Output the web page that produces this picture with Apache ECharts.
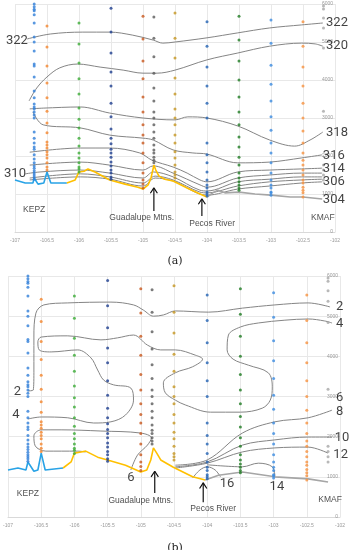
<!DOCTYPE html>
<html><head><meta charset="utf-8">
<script src="https://cdn.jsdelivr.net/npm/echarts@6/dist/echarts.min.js"></script>
<style>html,body{margin:0;padding:0;background:#fff}#c{width:350px;height:550px}</style>
</head><body><div id="c"></div>
<script>
// ---- sounding columns (longitude, altitude m) ----
const colLons = [-106.70,-106.5,-106.0,-105.5,-105.0,-104.83,-104.5,-104.0,-103.5,-103.0,-102.5,-102.18];
const col1 = [6000,5930,5860,5820,5720,5500,5130,5000,4760,4420,4370,4080,3710,3530,3370,3290,3240,3160,3080,3000,2630,2470,2340,2240,2180,2030,1920,1820,1740,1680,1610,1550,1500,1450,1390];
const col2 = [5420,4870,4370,3920,3530,3180,2870,2610,2370,2290,2210,2110,2030,1950,1820,1710,1630];
const col3 = [5500,4950,4450,4030,3630,3260,2970,2740,2470,2260,2080,1950,1820,1710,1660,1580];
const col4 = [5890,5260,4710,4210,3840,3390,3030,2710,2470,2320,2180,2080,1970,1840,1740,1630,1550,1450,1390];
const col5 = [5680,5080,4500,4030,3550,3160,2820,2550,2340,2080,1820,1550,1370,1260,1160];
const col6 = [5660,5100,4610,4180,3790,3450,3160,3000,2820,2630,2470,2290,2160,2080,1970,1890,1820];
const col7 = [5760,5100,4580,4050,3630,3240,3000,2820,2550,2340,2110,1950,1760,1580,1500,1420];
const col8 = [5530,4890,4340,3840,3390,3000,2340,2030,1820,1580,1370,1240,1160,1050,1000,950];
const col9 = [5680,5050,4500,4000,3550,3160,2820,2500,2240,1970,1760,1550,1420,1320,1240,1160,1100];
const col10 = [5580,4970,4390,3890,3450,3030,2680,2340,2080,1820,1550,1370,1240,1160,1050,1030,970];
const col11 = [5530,4890,4340,3840,3390,3000,2660,2340,2080,1890,1760,1630,1500,1370,1290,1180,1100,1030,920];
const col12 = [5950,5870,5630,5370,4840,3180,1760,1630,1500,1370];
const columns = [col1,col2,col3,col4,col5,col6,col7,col8,col9,col10,col11,col12];
const colColors = ['#2f7ed8','#f4842c','#3aaa35','#1d3d8f','#c8561c','#5a5a5a','#c4951f','#2262b3','#1e7a22','#3b8be0','#f6913e','#a6a6a6'];

// ---- terrain (a) ----
const terrA_blue = [[-107,1370],[-106.84,1290],[-106.72,1290],[-106.70,1420],[-106.64,1260],[-106.55,1290],[-106.5,1580],[-106.44,1290],[-106.19,1290]];
const terrA_yellow = [[-106.19,1290],[-106.06,1370],[-106.0,1580],[-105.92,1600],[-105.86,1660],[-105.75,1580],[-105.52,1370],[-105.28,1260],[-105.08,1180],[-105.0,1130],[-104.92,1240],[-104.875,1420],[-104.84,1680],[-104.83,1760],[-104.80,1630],[-104.75,1470],[-104.66,1390],[-104.53,1340],[-104.31,1160],[-104.11,1000],[-104.0,920]];
const terrA_gray = [[-104.0,920],[-103.91,1030],[-103.83,1100],[-103.72,1030],[-103.5,1050],[-103.25,1000],[-103.0,970],[-102.7,920],[-102.5,920],[-102.2,870]];
// ---- terrain (b) ----
const terrB_blue = [[-107,1170],[-106.85,1220],[-106.73,1170],[-106.70,1370],[-106.61,1140],[-106.55,1170],[-106.5,1590],[-106.44,1170],[-106.17,1220]];
const terrB_yellow = [[-106.17,1220],[-106.05,1370],[-106.0,1590],[-105.9,1620],[-105.83,1640],[-105.65,1490],[-105.5,1420],[-105.23,1290],[-105.0,1120],[-104.91,1170],[-104.85,1420],[-104.81,1720],[-104.76,1590],[-104.70,1420],[-104.51,1240],[-104.22,1000],[-104.03,920]];
const terrB_gray = [[-104.03,920],[-103.83,1040],[-103.47,1120],[-102.98,1000],[-102.48,950],[-102.18,870]];

// ---- contours (a): potential temperature ----
const A322 = [[-106.81,5080],[-106.45,5210],[-105.94,5260],[-105.52,5260],[-105.16,5180],[-104.84,5050],[-104.69,4970],[-104.5,5000],[-104.0,5110],[-103.52,5240],[-103.02,5370],[-102.52,5450],[-102.19,5500]];
const A320 = [[-106.78,3450],[-106.66,3790],[-106.5,4080],[-106.3,4320],[-106.02,4420],[-105.67,4340],[-105.31,4260],[-105.0,4180],[-104.78,4180],[-104.5,4260],[-104.0,4530],[-103.52,4710],[-103.02,4890],[-102.52,4970],[-102.31,4950],[-102.19,4890]];
const A318 = [[-106.77,3240],[-106.56,3260],[-105.98,3290],[-105.52,3130],[-105.0,3000],[-104.5,2950],[-104.3,3030],[-104.0,3000],[-103.52,2790],[-103.02,2420],[-102.63,2260],[-102.39,2420],[-102.19,2630]];
const A316 = [[-106.72,3160],[-106.56,2820],[-105.98,2740],[-105.52,2550],[-105.0,2470],[-104.84,2420],[-104.53,2160],[-104.22,2080],[-104.0,2050],[-103.52,1820],[-103.02,1840],[-102.52,1950],[-102.2,2030]];
const A314 = [[-106.77,2100],[-105.98,2210],[-105.52,2210],[-105.05,2080],[-104.86,1890],[-104.53,1710],[-104.31,1550],[-104.11,1370],[-104.0,1320],[-103.52,1580],[-103.02,1630],[-102.52,1660],[-102.2,1680]];
const A312 = [[-106.77,1760],[-105.98,1840],[-105.52,1760],[-105.0,1630],[-104.84,1740],[-104.53,1550],[-104.11,1240],[-104.0,1180],[-103.52,1420],[-103.02,1500],[-102.52,1550],[-102.2,1550]];
const A310 = [[-106.84,1530],[-106.61,1580],[-105.98,1630],[-105.52,1550],[-105.0,1420],[-104.84,1580],[-104.53,1450],[-104.11,1100],[-104.0,1080],[-103.52,1320],[-103.02,1390],[-102.52,1450],[-102.2,1450]];
const A308 = [[-106.77,1420],[-105.98,1530],[-105.52,1450],[-105.0,1290],[-104.81,1470],[-104.53,1370],[-104.11,1050],[-104.0,1030],[-103.52,1210],[-103.02,1320],[-102.52,1370],[-102.2,1390]];
const A306 = [[-106.77,1370],[-105.98,1450],[-105.52,1390],[-105.0,1210],[-104.81,1420],[-104.53,1340],[-104.0,970],[-103.52,1130],[-103.02,1210],[-102.52,1290],[-102.2,1320]];
const contoursA = [A322,A320,A318,A316,A314,A312,A310,A308,A306];

// ---- contours (b) ----
const B2 = [[-106.70,3140],[-106.62,3160],[-106.61,3660],[-106.61,4480],[-106.58,5075],[-106.46,5280],[-106.10,5330],[-105.45,5350],[-105.11,5280],[-104.96,5150],[-104.81,5000],[-104.66,5030],[-104.48,5130],[-103.98,5100],[-103.47,5200],[-102.98,5280],[-102.48,5330],[-102.15,5230]];
const B4 = [[-106.70,2440],[-106.50,2490],[-106.10,2470],[-105.71,2340],[-105.45,2370],[-105.23,2540],[-105.11,2910],[-105.15,3210],[-105.41,3290],[-105.56,3410],[-105.65,3660],[-105.75,3960],[-105.95,4160],[-106.35,4110],[-106.53,4160],[-106.55,4360],[-106.50,4480],[-106.10,4510],[-105.60,4410],[-105.35,4460],[-105.11,4530],[-104.90,4280],[-104.70,4160],[-104.48,4160],[-104.18,4030],[-104.07,3930],[-104.22,3740],[-104.48,3590],[-104.66,3340],[-104.63,3090],[-104.48,2910],[-104.33,2790],[-103.95,2610],[-103.50,2610],[-103.17,2710],[-103.05,2910],[-103.02,3240],[-103.08,3590],[-103.38,3780],[-103.61,3930],[-103.70,4160],[-103.68,4530],[-103.50,4730],[-103.23,4830],[-102.83,4900],[-102.48,4930],[-102.23,4880],[-102.12,4830]];
const B6 = [[-105.15,1170],[-105.05,1540],[-104.90,1790],[-104.84,1970],[-105.0,2090],[-105.60,2140],[-106.20,2170],[-106.50,2170],[-106.61,2020],[-106.59,1770],[-106.43,1640],[-105.95,1640],[-105.83,1620]];
const B8 = [[-104.48,1290],[-104.0,1420],[-103.47,2090],[-102.98,2370],[-102.48,2470],[-102.12,2660]];
const B10 = [[-104.48,1250],[-104.0,1370],[-103.47,1790],[-102.98,1920],[-102.48,1990],[-102.12,1990]];
const B12 = [[-104.48,1220],[-104.0,1340],[-103.47,1620],[-102.98,1720],[-102.48,1740],[-102.18,1590]];
const B14 = [[-104.0,1300],[-103.47,1250],[-103.23,1340],[-103.02,1250],[-102.98,1000]];
const B16 = [[-104.22,970],[-104.11,1170],[-104.0,1250],[-103.88,1170],[-103.80,1000]];
const contoursB = [B2,B4,B6,B8,B10,B12,B14,B16];

// ---- labels: [lon, alt, text, align] ----
const labelsA = [[-106.97,5030,'322','center'],[-107.0,1530,'310','center'],
  [-102.14,5500,'322','left'],[-102.14,4890,'320','left'],[-102.14,2600,'318','left'],
  [-102.19,2000,'316','left'],[-102.19,1660,'314','left'],[-102.19,1320,'306','left'],[-102.19,840,'304','left']];
const labelsB = [[-102.06,5230,'2','left'],[-102.06,4810,'4','left'],[-102.06,2960,'6','left'],[-102.06,2610,'8','left'],
  [-102.08,1970,'10','left'],[-102.10,1540,'12','left'],[-106.86,3110,'2','center'],[-106.88,2540,'4','center'],
  [-105.15,970,'6','center'],[-103.70,820,'16','center'],[-102.95,750,'14','center']];
const placesA = [[-106.70,580,'KEPZ'],[-105.02,370,'Guadalupe Mtns.'],[-103.92,210,'Pecos River'],[-102.19,390,'KMAF']];
const placesB = [[-106.70,570,'KEPZ'],[-105.0,400,'Guadalupe Mtns.'],[-103.91,220,'Pecos River'],[-102.15,420,'KMAF']];
// arrows: [lon, tipAlt, tailAlt]
const arrowsA = [[-104.83,1160,550],[-104.08,870,420]];
const arrowsB = [[-104.79,1140,600],[-104.06,850,370]];
const tickFmt = v => String(v);

const series = [];
function addPanel(idx, terr, contours, labels, places, arrows){
  contours.forEach(c => series.push({type:'line', xAxisIndex:idx, yAxisIndex:idx, data:c, smooth:0.35, showSymbol:false, symbol:'none', clip:false,
    lineStyle:{color:'#858585', width:1}, silent:true, z:3}));
  const tc = ['#29a3e6','#ffc000','#a6a6a6'];
  terr.forEach((t,i) => series.push({type:'line', xAxisIndex:idx, yAxisIndex:idx, data:t, showSymbol:false, symbol:'none',
    lineStyle:{color:tc[i], width:1.6}, z:4}));
  columns.forEach((c,i) => series.push({type:'scatter', xAxisIndex:idx, yAxisIndex:idx, symbolSize:3,
    itemStyle:{color:colColors[i]}, data:c.map(a=>[colLons[i],a]), z:5}));
  series.push({type:'scatter', xAxisIndex:idx, yAxisIndex:idx, symbolSize:0, clip:false, z:6,
    data: labels.map(l=>({value:[l[0],l[1]], name:l[2], label:{align:l[3]}})),
    label:{show:true, position:'inside', formatter:'{b}', fontSize:13, color:'#111', fontFamily:'Roboto', verticalAlign:'middle'}});
  series.push({type:'scatter', xAxisIndex:idx, yAxisIndex:idx, symbolSize:0, clip:false, z:6,
    data: places.map(l=>({value:[l[0],l[1]], name:l[2]})),
    label:{show:true, position:'inside', formatter:'{b}', fontSize:8.5, color:'#222', fontFamily:'Liberation Sans', align:'center', verticalAlign:'middle'}});
  arrows.forEach(a => {
    series.push({type:'line', xAxisIndex:idx, yAxisIndex:idx, data:[[a[0],a[2]],[a[0],a[1]]], showSymbol:false, symbol:'none', lineStyle:{color:'#111', width:1.2}, z:6});
    series.push({type:'line', xAxisIndex:idx, yAxisIndex:idx, data:[[a[0]-0.055,a[1]-140],[a[0],a[1]],[a[0]+0.055,a[1]-140]], showSymbol:false, symbol:'none', lineStyle:{color:'#111', width:1.2}, z:6});
  });
}
addPanel(0,[terrA_blue,terrA_yellow,terrA_gray],contoursA,labelsA,placesA,arrowsA);
addPanel(1,[terrB_blue,terrB_yellow,terrB_gray],contoursB,labelsB,placesB,arrowsB);

const xAx = gi => ({type:'value', gridIndex:gi, min:-107, max:-102, interval:0.5,
  axisLine:{show:true, lineStyle:{color:'#d9d9d9'}}, axisTick:{show:false},
  axisLabel:{fontSize:5, color:'#999', margin:6, formatter:tickFmt, showMinLabel:true, showMaxLabel:true},
  splitLine:{show:true, lineStyle:{color:'#e8e8e8', width:1}}});
const yAx = gi => ({type:'value', gridIndex:gi, min:0, max:6000, interval:1000, position:'right',
  axisLine:{show:false}, axisTick:{show:false},
  axisLabel:{inside:true, fontSize:5, color:'#999', margin:2, formatter:tickFmt},
  splitLine:{show:true, lineStyle:{color:'#e8e8e8', width:1}}});

const chart = echarts.init(document.getElementById('c'), null, {renderer:'canvas'});
chart.setOption({
  animation:false,
  backgroundColor:'#fff',
  title:[{text:'(a)', left:'center', top:251, textStyle:{fontSize:11, fontWeight:'normal', fontFamily:'DejaVu Serif', color:'#222'}},
         {text:'(b)', left:'center', top:538, textStyle:{fontSize:11, fontWeight:'normal', fontFamily:'DejaVu Serif', color:'#222'}}],
  grid:[{left:15, right:15, top:4, height:228}, {left:7, right:10, top:276, height:241}],
  xAxis:[xAx(0), xAx(1)],
  yAxis:[yAx(0), yAx(1)],
  series: series
});
</script></body></html>
